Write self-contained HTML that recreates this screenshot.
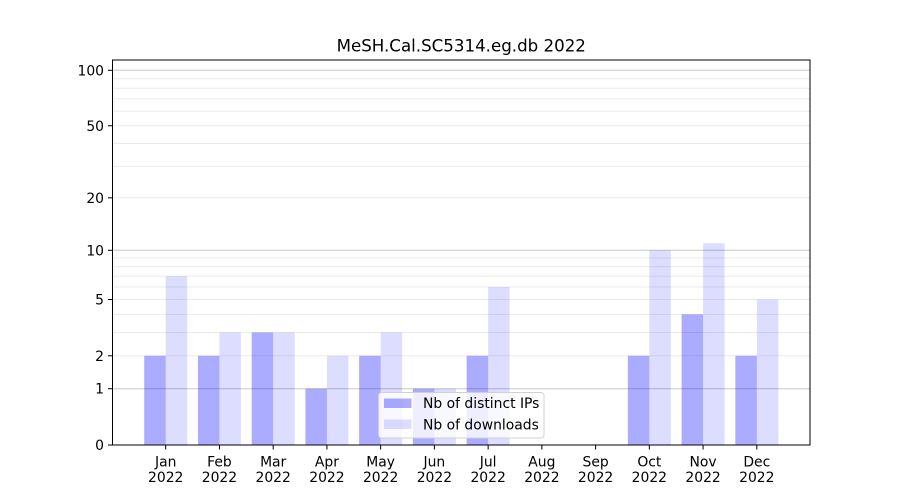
<!DOCTYPE html>
<html><head><meta charset="utf-8"><style>
html,body{margin:0;padding:0;background:#fff;}
svg{display:block;}
text{font-family:"DejaVu Sans","Liberation Sans",sans-serif;fill:#000;}
</style></head><body>
<svg width="900" height="500" viewBox="0 0 900 500" xmlns="http://www.w3.org/2000/svg">
<rect x="0" y="0" width="900" height="500" fill="#fff"/>
<!-- minor gridlines -->
<g stroke="#ebebeb" stroke-width="1">
<line x1="112.5" x2="810" y1="355.8" y2="355.8"/>
<line x1="112.5" x2="810" y1="332.44" y2="332.44"/>
<line x1="112.5" x2="810" y1="314.33" y2="314.33"/>
<line x1="112.5" x2="810" y1="299.52" y2="299.52"/>
<line x1="112.5" x2="810" y1="287.01" y2="287.01"/>
<line x1="112.5" x2="810" y1="276.17" y2="276.17"/>
<line x1="112.5" x2="810" y1="266.6" y2="266.6"/>
<line x1="112.5" x2="810" y1="258.05" y2="258.05"/>
<line x1="112.5" x2="810" y1="197.81" y2="197.81"/>
<line x1="112.5" x2="810" y1="166.19" y2="166.19"/>
<line x1="112.5" x2="810" y1="143.49" y2="143.49"/>
<line x1="112.5" x2="810" y1="125.77" y2="125.77"/>
<line x1="112.5" x2="810" y1="111.23" y2="111.23"/>
<line x1="112.5" x2="810" y1="98.91" y2="98.91"/>
<line x1="112.5" x2="810" y1="88.21" y2="88.21"/>
<line x1="112.5" x2="810" y1="78.76" y2="78.76"/>
</g>
<!-- major gridlines -->
<g stroke="#c8c8c8" stroke-width="1">
<line x1="112.5" x2="810" y1="388.72" y2="388.72"/>
<line x1="112.5" x2="810" y1="250.31" y2="250.31"/>
<line x1="112.5" x2="810" y1="70.29" y2="70.29"/>
</g>
<!-- bars IP -->
<g fill="#0000ff" fill-opacity="0.33">
<rect x="144.21" y="355.8" width="21.49" height="89.2"/>
<rect x="197.95" y="355.8" width="21.49" height="89.2"/>
<rect x="251.69" y="332.44" width="21.49" height="112.56"/>
<rect x="305.43" y="388.72" width="21.49" height="56.28"/>
<rect x="359.16" y="355.8" width="21.49" height="89.2"/>
<rect x="412.9" y="388.72" width="21.49" height="56.28"/>
<rect x="466.64" y="355.8" width="21.49" height="89.2"/>
<rect x="627.85" y="355.8" width="21.49" height="89.2"/>
<rect x="681.59" y="314.33" width="21.49" height="130.67"/>
<rect x="735.33" y="355.8" width="21.49" height="89.2"/>
</g>
<!-- bars downloads -->
<g fill="#0000ff" fill-opacity="0.135">
<rect x="165.7" y="276.17" width="21.49" height="168.83"/>
<rect x="219.44" y="332.44" width="21.49" height="112.56"/>
<rect x="273.18" y="332.44" width="21.49" height="112.56"/>
<rect x="326.92" y="355.8" width="21.49" height="89.2"/>
<rect x="380.65" y="332.44" width="21.49" height="112.56"/>
<rect x="434.39" y="388.72" width="21.49" height="56.28"/>
<rect x="488.13" y="287.01" width="21.49" height="157.99"/>
<rect x="649.34" y="250.31" width="21.49" height="194.69"/>
<rect x="703.08" y="243.25" width="21.49" height="201.75"/>
<rect x="756.82" y="299.52" width="21.49" height="145.48"/>
</g>
<!-- axes frame -->
<rect x="112.5" y="60" width="697.5" height="385" fill="none" stroke="#000" stroke-width="1"/>
<!-- y ticks -->
<g stroke="#000" stroke-width="1">
<line x1="108" x2="112.5" y1="445" y2="445"/>
<line x1="108" x2="112.5" y1="388.72" y2="388.72"/>
<line x1="108" x2="112.5" y1="355.8" y2="355.8"/>
<line x1="108" x2="112.5" y1="299.52" y2="299.52"/>
<line x1="108" x2="112.5" y1="250.31" y2="250.31"/>
<line x1="108" x2="112.5" y1="197.81" y2="197.81"/>
<line x1="108" x2="112.5" y1="125.77" y2="125.77"/>
<line x1="108" x2="112.5" y1="70.29" y2="70.29"/>
</g>
<g font-size="13.9" text-anchor="end">
<text x="104" y="450">0</text>
<text x="104" y="393.7">1</text>
<text x="104" y="360.8">2</text>
<text x="104" y="304.5">5</text>
<text x="104" y="255.3">10</text>
<text x="104" y="202.8">20</text>
<text x="104" y="130.8">50</text>
<text x="104" y="75.3">100</text>
</g>
<!-- x ticks -->
<g stroke="#000" stroke-width="1">
<line x1="165.7" x2="165.7" y1="445" y2="449.5"/>
<line x1="219.44" x2="219.44" y1="445" y2="449.5"/>
<line x1="273.18" x2="273.18" y1="445" y2="449.5"/>
<line x1="326.92" x2="326.92" y1="445" y2="449.5"/>
<line x1="380.65" x2="380.65" y1="445" y2="449.5"/>
<line x1="434.39" x2="434.39" y1="445" y2="449.5"/>
<line x1="488.13" x2="488.13" y1="445" y2="449.5"/>
<line x1="541.87" x2="541.87" y1="445" y2="449.5"/>
<line x1="595.6" x2="595.6" y1="445" y2="449.5"/>
<line x1="649.34" x2="649.34" y1="445" y2="449.5"/>
<line x1="703.08" x2="703.08" y1="445" y2="449.5"/>
<line x1="756.82" x2="756.82" y1="445" y2="449.5"/>
</g>
<g font-size="13.9" text-anchor="middle">
<text x="165.7" y="466.5">Jan</text><text x="165.7" y="482">2022</text>
<text x="219.44" y="466.5">Feb</text><text x="219.44" y="482">2022</text>
<text x="273.18" y="466.5">Mar</text><text x="273.18" y="482">2022</text>
<text x="326.92" y="466.5">Apr</text><text x="326.92" y="482">2022</text>
<text x="380.65" y="466.5">May</text><text x="380.65" y="482">2022</text>
<text x="434.39" y="466.5">Jun</text><text x="434.39" y="482">2022</text>
<text x="488.13" y="466.5">Jul</text><text x="488.13" y="482">2022</text>
<text x="541.87" y="466.5">Aug</text><text x="541.87" y="482">2022</text>
<text x="595.6" y="466.5">Sep</text><text x="595.6" y="482">2022</text>
<text x="649.34" y="466.5">Oct</text><text x="649.34" y="482">2022</text>
<text x="703.08" y="466.5">Nov</text><text x="703.08" y="482">2022</text>
<text x="756.82" y="466.5">Dec</text><text x="756.82" y="482">2022</text>
</g>
<!-- title -->
<text x="461.25" y="51.5" font-size="16.67" text-anchor="middle">MeSH.Cal.SC5314.eg.db 2022</text>
<!-- legend -->
<rect x="378.5" y="392.5" width="165.5" height="45.5" rx="3" ry="3" fill="#fff" fill-opacity="0.8" stroke="#d0d0d0" stroke-width="1"/>
<rect x="384" y="398.5" width="27.5" height="9.5" fill="#0000ff" fill-opacity="0.33"/>
<rect x="384" y="419.5" width="27.5" height="9.5" fill="#0000ff" fill-opacity="0.135"/>
<text x="423" y="408" font-size="13.9">Nb of distinct IPs</text>
<text x="423" y="429.5" font-size="13.9">Nb of downloads</text>
</svg>
</body></html>
